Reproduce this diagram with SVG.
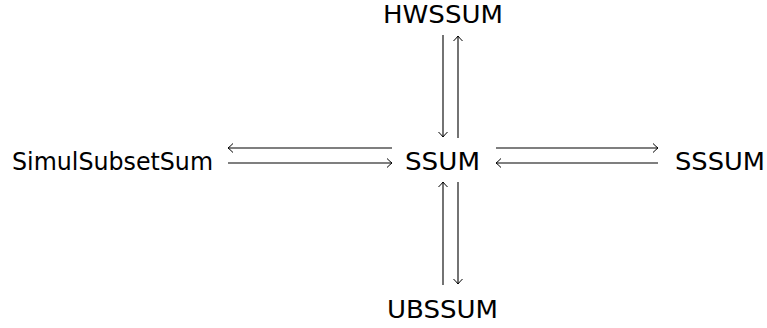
<svg xmlns="http://www.w3.org/2000/svg" width="767" height="328" viewBox="0 0 767 328">
<style>
text{font-family:"DejaVu Sans","Liberation Sans",sans-serif;font-size:25px;fill:#000}
.c line{stroke:#000;stroke-width:1.1;fill:none}
</style>
<defs>
<marker id="h" viewBox="-6 -5 7 10" markerWidth="7" markerHeight="10" refX="0" refY="0" orient="auto" markerUnits="userSpaceOnUse">
<path d="M-5,-4.5 Q-1.5,-1 0,0 Q-1.5,1 -5,4.5" fill="none" stroke="#000" stroke-width="1"/>
</marker>
</defs>
<rect width="767" height="328" fill="#fff"/>
<g class="c" id="connectors">
<line x1="443" y1="35" x2="443" y2="137" marker-end="url(#h)"/>
<line x1="458" y1="138" x2="458" y2="36" marker-end="url(#h)"/>
<line x1="443" y1="285" x2="443" y2="182" marker-end="url(#h)"/>
<line x1="458" y1="182" x2="458" y2="284" marker-end="url(#h)"/>
<line x1="392" y1="148" x2="228" y2="148" marker-end="url(#h)"/>
<line x1="228" y1="163" x2="392" y2="163" marker-end="url(#h)"/>
<line x1="496" y1="148" x2="658" y2="148" marker-end="url(#h)"/>
<line x1="658" y1="163" x2="496" y2="163" marker-end="url(#h)"/>
</g>
<g id="hwssum"><text x="383" y="23" textLength="120" lengthAdjust="spacingAndGlyphs">HWSSUM</text></g>
<g id="ssum"><text x="405" y="170" textLength="75" lengthAdjust="spacingAndGlyphs">SSUM</text></g>
<g id="simulsubsetsum"><text x="12" y="170" textLength="201" lengthAdjust="spacingAndGlyphs">SimulSubsetSum</text></g>
<g id="sssum"><text x="675" y="170" textLength="90" lengthAdjust="spacingAndGlyphs">SSSUM</text></g>
<g id="ubssum"><text x="387" y="318" textLength="111" lengthAdjust="spacingAndGlyphs">UBSSUM</text></g>
</svg>
